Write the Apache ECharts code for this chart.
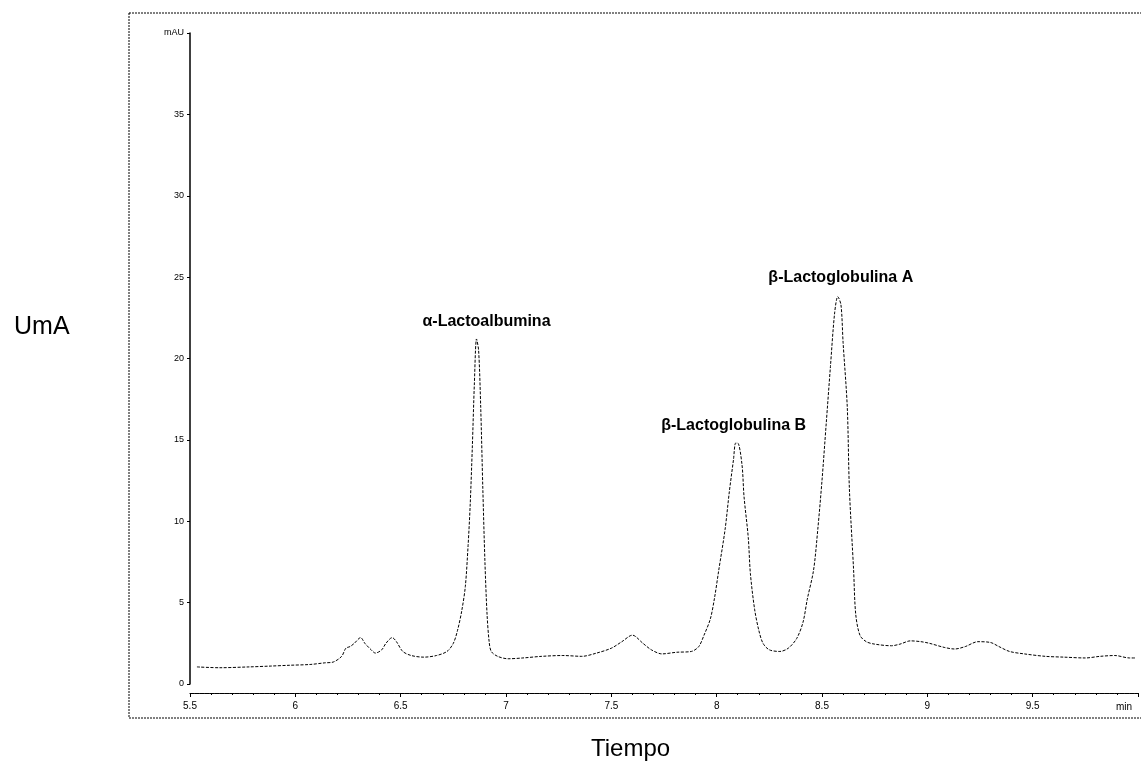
<!DOCTYPE html>
<html>
<head>
<meta charset="utf-8">
<script src="https://cdn.jsdelivr.net/npm/echarts@6/dist/echarts.min.js"></script>
<style>
html,body{margin:0;padding:0;background:#fff;}
#chart{width:1141px;height:772px;}
</style>
</head>
<body>
<div id="chart"></div>
<script>
// Chromatogram trace: retention time (min) and absorbance (mAU)
var times = [5.533,5.64,5.78,5.88,5.97,6.07,6.14,6.18,6.22,6.24,6.26,6.28,6.31,6.33,6.36,6.38,6.41,6.43,6.46,6.48,6.51,6.55,6.61,6.67,6.72,6.75,6.77,6.79,6.807,6.82,6.83,6.84,6.85,6.86,6.87,6.88,6.89,6.90,6.91,6.92,6.93,6.96,7.01,7.08,7.17,7.27,7.36,7.43,7.50,7.55,7.60,7.65,7.69,7.74,7.81,7.88,7.915,7.94,7.97,7.99,8.01,8.04,8.06,8.08,8.09,8.10,8.12,8.13,8.15,8.16,8.18,8.20,8.22,8.25,8.30,8.34,8.38,8.41,8.43,8.46,8.48,8.50,8.52,8.54,8.56,8.575,8.59,8.60,8.62,8.63,8.65,8.66,8.68,8.71,8.75,8.83,8.87,8.92,8.97,9.01,9.08,9.13,9.18,9.24,9.30,9.34,9.39,9.46,9.56,9.65,9.75,9.82,9.89,9.96,9.99];
var absorb = [1.05,1.0,1.05,1.1,1.15,1.2,1.3,1.35,1.7,2.2,2.3,2.5,2.85,2.5,2.1,1.9,2.1,2.5,2.85,2.6,2.0,1.75,1.65,1.75,2.0,2.5,3.3,4.5,6.0,8.5,11,14.5,18.5,21.2,20.5,17,12,7.5,4.3,2.6,2.0,1.7,1.55,1.6,1.7,1.75,1.7,1.9,2.2,2.6,3.0,2.5,2.1,1.85,1.95,2.0,2.3,3.0,4.0,5.3,7.0,9.5,11.8,13.8,14.8,14.8,13.5,11.5,9.0,6.8,4.6,3.3,2.5,2.1,2.0,2.2,2.8,3.8,5.2,7.0,9.5,12.5,16.0,19.5,22.8,23.8,23.3,21,17,12,7.0,4.3,3.0,2.6,2.45,2.35,2.45,2.65,2.6,2.5,2.25,2.15,2.3,2.6,2.55,2.3,2.0,1.85,1.7,1.65,1.6,1.7,1.75,1.6,1.6];
// Peak annotations
var peakNames = ['α-Lactoalbumina','β-Lactoglobulina B','β-Lactoglobulina A'];
var peakTimes = [6.86,8.095,8.575];
var peakValues = [21.2,14.8,23.8];
// Axis texts
var yUnit = 'mAU';
var xUnit = 'min';
var yTitle = 'UmA';
var xTitle = 'Tiempo';

var chart = echarts.init(document.getElementById('chart'));
var series = times.map(function(t,i){return [t, absorb[i]];});
var peakPoints = peakNames.map(function(n,i){
  return {name:n, coord:[peakTimes[i], peakValues[i]]};
});
var labelOffsets = [[10,-4],[-3,-5],[3,-6]];
peakPoints.forEach(function(p,i){
  p.label = {show:true, position:'top', formatter:p.name, offset:labelOffsets[i],
    color:'#000', fontFamily:'Liberation Sans, Arial, sans-serif', fontWeight:'bold', fontSize:16};
});

var option = {
  backgroundColor:'#fff',
  animation:false,
  grid:{left:190, right:0, top:33, bottom:88, containLabel:false},
  graphic:[
    {type:'rect', shape:{x:129, y:13, width:1030, height:705},
     style:{fill:'none', stroke:'#000', lineWidth:1, lineDash:[2,1]}, z:-1},
    {type:'text', left:14, top:315, style:{text:yTitle, font:'25px "Liberation Sans", Arial, sans-serif', fill:'#000'}},
    {type:'text', left:591, top:737, style:{text:xTitle, font:'24px "Liberation Sans", Arial, sans-serif', fill:'#000'}}
  ],
  xAxis:{
    type:'value', min:5.5, max:10, interval:0.5,
    offset:9,
    name:xUnit, nameLocation:'end', nameGap:-22,
    nameTextStyle:{color:'#000', fontSize:10, fontFamily:'Liberation Sans, Arial', verticalAlign:'top', padding:[9,0,0,0]},
    axisLine:{onZero:false, lineStyle:{color:'#000', width:1.2, type:[4,1]}},
    axisTick:{show:true, length:4, lineStyle:{color:'#000'}},
    minorTick:{show:true, splitNumber:5, length:2, lineStyle:{color:'#000'}},
    splitLine:{show:false},
    axisLabel:{color:'#000', fontSize:10, fontFamily:'Liberation Sans, Arial', margin:8,
      formatter:function(v){ if (Math.abs(v-10)<1e-6) return ''; return String(v); }}
  },
  yAxis:{
    type:'value', min:0, max:40, interval:5,
    axisLine:{show:true, lineStyle:{color:'#000', width:1.5}},
    axisTick:{show:true, length:3, lineStyle:{color:'#000'}},
    splitLine:{show:false},
    axisLabel:{color:'#000', fontSize:9, fontFamily:'Liberation Sans, Arial', margin:6,
      formatter:function(v){ return v===40 ? yUnit : String(v); }}
  },
  series:[{
    type:'line', data:series, showSymbol:false, smooth:0.3,
    lineStyle:{color:'#000', width:1, type:[3,1.5]},
    markPoint:{symbol:'circle', symbolSize:0, data:peakPoints, itemStyle:{color:'transparent'}}
  }]
};
chart.setOption(option);
</script>
</body>
</html>
